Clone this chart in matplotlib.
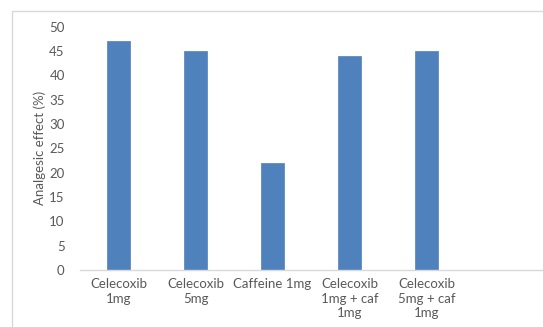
import matplotlib
matplotlib.use("Agg")
import matplotlib.pyplot as plt
from matplotlib.patches import Rectangle

categories = ["Celecoxib\n1mg", "Celecoxib\n5mg", "Caffeine 1mg",
              "Celecoxib\n1mg + caf\n1mg", "Celecoxib\n5mg + caf\n1mg", ""]
values = [47, 45, 22, 44, 45]
yticks = [0, 5, 10, 15, 20, 25, 30, 35, 40, 45, 50]

plt.rcParams["font.family"] = ["Lato", "DejaVu Sans"]
text_color = "#595959"

fig = plt.figure(figsize=(5.43, 3.27), dpi=100)
fig.patch.set_facecolor("white")

# chart area border
fig.patches.append(Rectangle((12 / 543, -0.2), 1.2, 1 - 11 / 327 + 0.2,
                             transform=fig.transFigure, fill=False,
                             edgecolor="#d9d9d9", linewidth=1.0))

ax = fig.add_axes([80 / 543, 1 - 270 / 327, 462 / 543, (270 - 26.5) / 327])
x = list(range(len(categories)))
ax.bar(x[:len(values)], values, width=0.31, color="#4f81bd",
       edgecolor="#4f81bd", linewidth=0.5)

ax.set_xlim(-0.5, len(categories) - 0.5)
ax.set_ylim(0, 50)
ax.set_yticks(yticks)
ax.set_yticklabels([str(t) for t in yticks], fontsize=9.5, color=text_color)
ax.set_xticks(x)
ax.set_xticklabels([])
for xi, label in zip(x, categories):
    ax.annotate(label, xy=(xi, 0), xycoords=("data", "axes fraction"),
                xytext=(0, -6), textcoords="offset points",
                ha="center", va="top", multialignment="center",
                fontsize=9.5, color=text_color, linespacing=1.22)
ax.tick_params(axis="both", length=0)
ax.tick_params(axis="y", pad=11)

for side in ["top", "right", "left"]:
    ax.spines[side].set_visible(False)
ax.spines["bottom"].set_color("#d9d9d9")
ax.spines["bottom"].set_linewidth(1.0)

ax.set_ylabel("Analgesic effect (%)", fontsize=9.5, color=text_color, labelpad=2)

fig.savefig("out.png", dpi=100)
